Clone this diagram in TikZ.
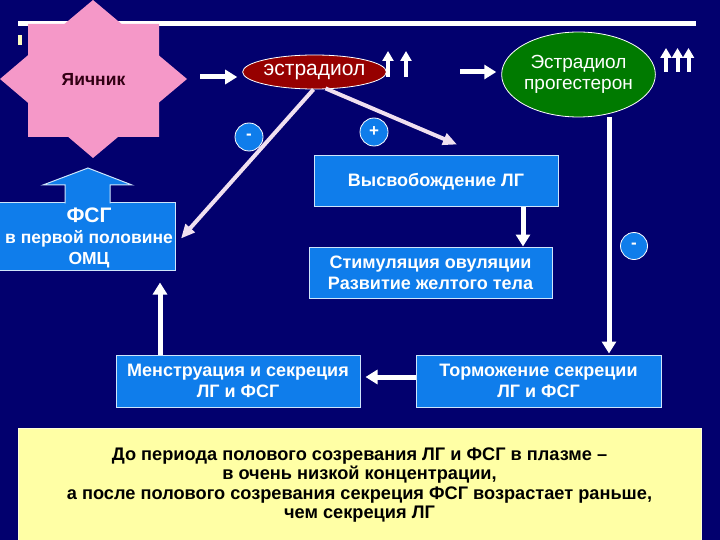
\documentclass[tikz,border=0pt]{standalone}
\usepackage{fontspec}
\setmainfont{Liberation Sans}
\usetikzlibrary{shapes.geometric,arrows.meta,calc}
\definecolor{navy}{RGB}{2,0,110}
\definecolor{boxblue}{RGB}{15,125,235}
\definecolor{starpink}{RGB}{245,152,200}
\definecolor{estrred}{RGB}{150,0,0}
\definecolor{epgreen}{RGB}{0,122,0}
\definecolor{noteyellow}{RGB}{255,255,165}
\definecolor{markyellow}{RGB}{250,250,190}
\definecolor{ovarytext}{RGB}{50,0,20}
\begin{document}
\begin{tikzpicture}[x=1pt,y=-1pt,
  bluebox/.style={draw=white!80!boxblue, line width=1pt, fill=boxblue, text=white, inner sep=0pt, align=center,
    font=\fontsize{18}{21}\selectfont\bfseries},
  arr/.style={draw=white, line width=5pt, -{Triangle[length=12pt,width=14pt]}},
  darr/.style={draw=white!88!violet, line width=4pt, -{Triangle[length=14pt,width=12pt]}},
  uparr/.style={draw=white, line width=4pt, -{Triangle[length=10pt,width=11pt]}},
  sign/.style={circle, draw=white, line width=0.8pt, fill=boxblue, text=white, inner sep=0pt,
    font=\fontsize{17}{17}\selectfont\bfseries},
  ell/.style={ellipse, draw=white, line width=0.8pt, inner sep=0pt, text=white, align=center}
]
\useasboundingbox (0,0) rectangle (720,540);
\fill[navy] (0,0) rectangle (720,540);

% top line and small marker
\draw[white, line width=5pt] (18,24) -- (696,24);
\fill[markyellow] (18,35) rectangle (22,45);

% star (ovary)
\fill[starpink] (93,0) -- (121.6,24) -- (159,24) -- (159,55.5) -- (187,79) -- (159,102.5) -- (159,137)
  -- (118,137) -- (93,158) -- (68.3,137) -- (28,137) -- (28,102.8) -- (0,79) -- (28,55.2) -- (28,24)
  -- (64.4,24) -- cycle;
\node[minimum width=187pt, minimum height=158pt, inner sep=0pt, text=ovarytext,
  font=\fontsize{17.5}{20}\selectfont\bfseries] (ovary) at (93.5,79) {Яичник};

% ellipses
\node[ell, fill=estrred, minimum width=125pt, minimum height=34pt,
  font=\fontsize{21}{24}\selectfont] (estr) at (314.5,72) {эстрадиол};
\node[ell, fill=epgreen, minimum width=153pt, minimum height=85pt,
  font=\fontsize{19}{21}\selectfont] (ep) at (578.5,74.5) {Эстрадиол\\прогестерон};

% boxes
\node[bluebox, minimum width=244pt, minimum height=51pt] (lh) at (436,181.5) {Высвобождение ЛГ};
\node[bluebox, minimum width=243pt, minimum height=51pt] (stim) at (430.5,272.5) {Стимуляция овуляции\\Развитие желтого тела};
\node[bluebox, minimum width=244pt, minimum height=52pt] (menst) at (238,381) {Менструация и секреция\\ЛГ и ФСГ};
\node[bluebox, minimum width=245pt, minimum height=52pt] (torm) at (538.5,381) {Торможение секреции\\ЛГ и ФСГ};
\node[bluebox, minimum width=176pt, minimum height=67pt] (fsh) at (87.5,236.5) {};
\node[text=white, align=center, inner sep=0pt, font=\fontsize{17.5}{21}\selectfont\bfseries] (fshtext) at (89,238)
  {{\fontsize{21}{21}\selectfont ФСГ}\\в первой половине\\ОМЦ};

% block arrow from FSH box up to the ovary
\fill[boxblue] (65,205) -- (65,185) -- (43,185) -- (88,168) -- (132,185) -- (110,185) -- (110,205) -- cycle;
\draw[white!80!boxblue, line width=1pt] (65,203.5) -- (65,185) -- (43,185) -- (88,168) -- (132,185) -- (110,185) -- (110,203.5);

% yellow note
\node[fill=noteyellow, draw=white!60!noteyellow, line width=1pt, minimum width=683pt, minimum height=114pt,
  inner sep=0pt, anchor=north west] (note) at (18,428) {};
\node[text=black, align=center, inner sep=0pt, font=\fontsize{18.2}{19.5}\selectfont\bfseries] (notetext) at (359.5,485)
  {До периода полового созревания ЛГ и ФСГ в плазме –\\в очень низкой концентрации,\\а после полового созревания секреция ФСГ возрастает раньше,\\чем секреция ЛГ};

% connectors
\draw[arr] ([xshift=13pt]ovary.east |- 0,77) -- ([xshift=-5pt]estr.west |- 0,77);
\draw[arr] ([xshift=73.5pt]estr.east) -- ([xshift=-5pt]ep.west |- estr.east);
\draw[darr] ([xshift=-1pt]estr.south) -- ([xshift=5pt,yshift=-2pt]fsh.east);
\draw[darr] ([xshift=11pt,yshift=1pt]estr.south) -- ([xshift=21pt,yshift=11pt]lh.north);
\draw[arr] ([xshift=70.5pt]torm.north |- ep.south) -- ([xshift=70.5pt,yshift=1pt]torm.north);
\draw[arr] ([xshift=87pt]lh.south) -- ([xshift=92.5pt]stim.north);
\draw[arr] ([yshift=4pt]torm.west) -- ([xshift=5pt,yshift=4pt]menst.east);
\draw[arr] ([xshift=-78pt]menst.north) -- ([xshift=72.5pt,yshift=-12pt]fsh.south);

% level arrows
\draw[uparr] (388,77) -- (388,51);
\draw[uparr] (406,77) -- (406,51);
\draw[uparr] (666,72) -- (666,48);
\draw[uparr] (677.5,72) -- (677.5,48);
\draw[uparr] (688.5,72) -- (688.5,48);

% signs
\node[sign, minimum size=28pt] (minusL) at (249,137) {-};
\node[sign, minimum size=28pt] (plusC) at (374,132) {+};
\node[sign, minimum size=27pt] (minusR) at (634,246) {-};
\end{tikzpicture}
\end{document}
